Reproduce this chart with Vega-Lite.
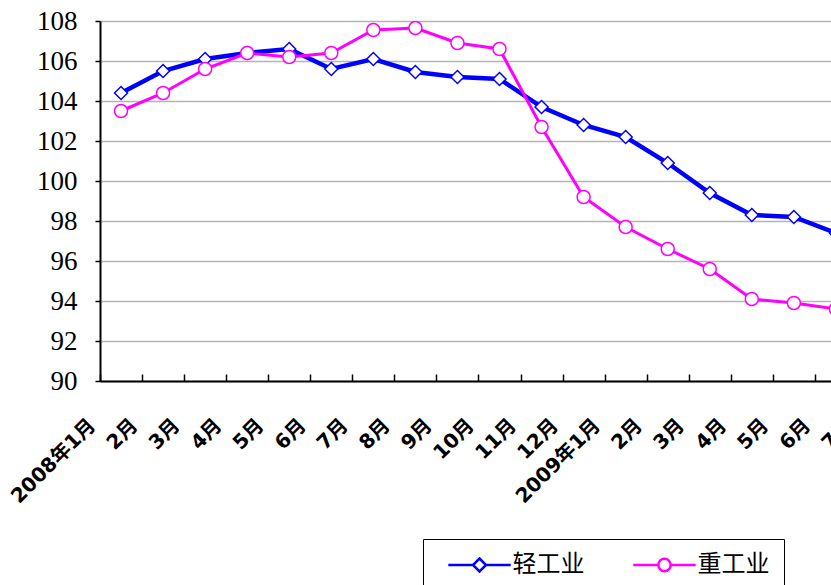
{
  "$schema": "https://vega.github.io/schema/vega-lite/v6.json",
  "width": 731,
  "height": 360,
  "autosize": "none",
  "padding": {"left": 100, "top": 21, "right": 0, "bottom": 204},
  "background": "white",
  "config": {"view": {"stroke": null}},
  "data": {
    "values": [
      {"month": "2008年1月", "series": "轻工业", "value": 104.4},
      {"month": "2008年2月", "series": "轻工业", "value": 105.5},
      {"month": "2008年3月", "series": "轻工业", "value": 106.1},
      {"month": "2008年4月", "series": "轻工业", "value": 106.4},
      {"month": "2008年5月", "series": "轻工业", "value": 106.6},
      {"month": "2008年6月", "series": "轻工业", "value": 105.6},
      {"month": "2008年7月", "series": "轻工业", "value": 106.1},
      {"month": "2008年8月", "series": "轻工业", "value": 105.45},
      {"month": "2008年9月", "series": "轻工业", "value": 105.2},
      {"month": "2008年10月", "series": "轻工业", "value": 105.1},
      {"month": "2008年11月", "series": "轻工业", "value": 103.7},
      {"month": "2008年12月", "series": "轻工业", "value": 102.8},
      {"month": "2009年1月", "series": "轻工业", "value": 102.2},
      {"month": "2009年2月", "series": "轻工业", "value": 100.9},
      {"month": "2009年3月", "series": "轻工业", "value": 99.4},
      {"month": "2009年4月", "series": "轻工业", "value": 98.3},
      {"month": "2009年5月", "series": "轻工业", "value": 98.2},
      {"month": "2009年6月", "series": "轻工业", "value": 97.4},
      {"month": "2008年1月", "series": "重工业", "value": 103.5},
      {"month": "2008年2月", "series": "重工业", "value": 104.4},
      {"month": "2008年3月", "series": "重工业", "value": 105.6},
      {"month": "2008年4月", "series": "重工业", "value": 106.4},
      {"month": "2008年5月", "series": "重工业", "value": 106.2},
      {"month": "2008年6月", "series": "重工业", "value": 106.4},
      {"month": "2008年7月", "series": "重工业", "value": 107.55},
      {"month": "2008年8月", "series": "重工业", "value": 107.65},
      {"month": "2008年9月", "series": "重工业", "value": 106.9},
      {"month": "2008年10月", "series": "重工业", "value": 106.6},
      {"month": "2008年11月", "series": "重工业", "value": 102.7},
      {"month": "2008年12月", "series": "重工业", "value": 99.2},
      {"month": "2009年1月", "series": "重工业", "value": 97.7},
      {"month": "2009年2月", "series": "重工业", "value": 96.6},
      {"month": "2009年3月", "series": "重工业", "value": 95.6},
      {"month": "2009年4月", "series": "重工业", "value": 94.1},
      {"month": "2009年5月", "series": "重工业", "value": 93.9},
      {"month": "2009年6月", "series": "重工业", "value": 93.6}
    ]
  },
  "encoding": {
    "x": {
      "field": "month",
      "type": "nominal",
      "sort": null,
      "scale": {
        "type": "band",
        "domain": ["2008年1月","2008年2月","2008年3月","2008年4月","2008年5月","2008年6月","2008年7月","2008年8月","2008年9月","2008年10月","2008年11月","2008年12月","2009年1月","2009年2月","2009年3月","2009年4月","2009年5月","2009年6月","2009年7月"],
        "paddingInner": 0,
        "paddingOuter": 0,
        "range": [0, 799]
      },
      "axis": {
        "title": null,
        "grid": false,
        "tickBand": "extent",
        "ticks": true,
        "tickSize": -7,
        "tickColor": "black",
        "tickWidth": 1.5,
        "domainColor": "black",
        "domainWidth": 2,
        "labelExpr": "isString(datum.value) ? (test(/年1月$/, datum.value) ? datum.value : replace(datum.value, /^[0-9]+年/, '')) : ''",
        "labelAngle": -45,
        "labelAlign": "right",
        "labelBaseline": "middle",
        "labelOffset": -29,
        "labelPadding": 48,
        "labelFont": "DejaVu Sans, Noto Sans CJK SC",
        "labelFontSize": 20,
        "labelFontWeight": "bold",
        "labelColor": "black",
        "labelOverlap": false,
        "labelBound": false,
        "labelFlush": false,
        "labelLimit": 0
      }
    },
    "y": {
      "field": "value",
      "type": "quantitative",
      "scale": {"domain": [90, 108], "nice": false, "zero": false},
      "axis": {
        "title": null,
        "values": [90, 92, 94, 96, 98, 100, 102, 104, 106, 108],
        "grid": true,
        "gridColor": "#b4b4b4",
        "gridWidth": 1.5,
        "tickSize": 5,
        "tickColor": "black",
        "tickWidth": 1.5,
        "domainColor": "black",
        "domainWidth": 2,
        "labelAlign": "right",
        "labelPadding": 18,
        "labelFont": "Liberation Serif",
        "labelFontSize": 27,
        "labelColor": "black"
      }
    },
    "color": {
      "field": "series",
      "type": "nominal",
      "scale": {"domain": ["轻工业", "重工业"], "range": ["#0000ff", "#ff00ff"]}
    }
  },
  "layer": [
    {
      "transform": [{"filter": "datum.series === '轻工业'"}],
      "mark": {"type": "line", "clip": true, "strokeWidth": 4.5},
      "encoding": {
        "color": {
          "field": "series",
          "type": "nominal",
          "scale": {"domain": ["轻工业", "重工业"], "range": ["#0000ff", "#ff00ff"]},
          "legend": {
            "title": null,
            "orient": "none",
            "direction": "horizontal",
            "legendX": 323,
            "legendY": 518,
            "padding": 14,
            "strokeColor": "black",
            "fillColor": "white",
            "labelFont": "Noto Sans CJK SC",
            "labelFontSize": 24,
            "labelColor": "black",
            "symbolSize": 169,
            "symbolStrokeWidth": 2.5,
            "symbolOffset": 30.5,
            "labelOffset": 21,
            "columnPadding": 37,
            "encode": {
              "symbols": {
                "update": {
                  "shape": {"signal": "datum.value === '轻工业' ? 'M-4.8,0H-1M1,0H4.8M0,-1L1,0L0,1L-1,0Z' : 'M-4.8,0H-0.95M0.95,0H4.8M-0.95,0A0.95,0.95,0,1,1,0.95,0A0.95,0.95,0,1,1,-0.95,0Z'"},
                  "fill": {"value": "white"},
                  "fillOpacity": {"value": 1}
                }
              }
            }
          }
        }
      }
    },
    {
      "transform": [{"filter": "datum.series === '轻工业'"}],
      "mark": {"type": "point", "clip": true, "shape": "diamond", "size": 170, "filled": false, "fill": "white", "opacity": 1, "strokeWidth": 1.5}
    },
    {
      "transform": [{"filter": "datum.series === '重工业'"}],
      "mark": {"type": "line", "clip": true, "strokeWidth": 3}
    },
    {
      "transform": [{"filter": "datum.series === '重工业'"}],
      "mark": {"type": "point", "clip": true, "shape": "circle", "size": 170, "filled": false, "fill": "white", "opacity": 1, "strokeWidth": 1.5}
    }
  ]
}
